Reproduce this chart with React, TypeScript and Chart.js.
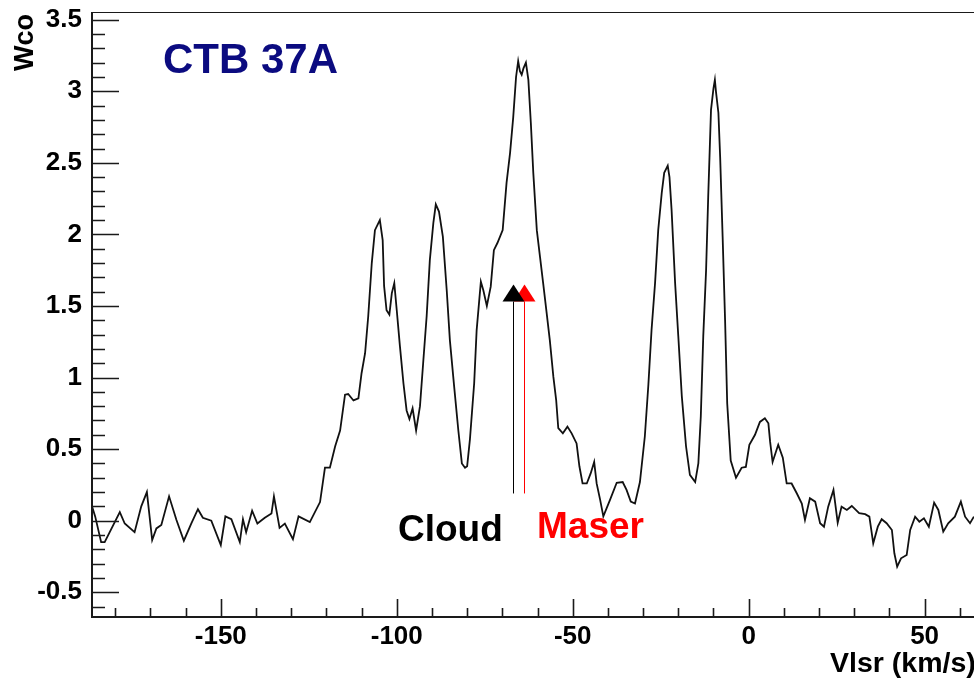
import React, { useEffect, useRef } from "react";
import { Chart, registerables } from "chart.js";

Chart.register(...registerables);

// CO line profile toward CTB 37A: LSR velocity (km/s) and integrated W_CO per channel
const velocity = [
  -186.6, -185.7, -184.0, -183.0, -178.7, -177.3, -174.5, -172.6, -171.0, -169.5,
  -168.3, -166.9, -164.7, -162.6, -160.5, -158.4, -156.5, -155.1, -152.7, -150.0,
  -148.7, -147.0, -144.6, -143.7, -142.8, -141.1, -139.6, -137.5, -135.6, -134.9,
  -133.3, -131.8, -129.5, -127.9, -124.7, -121.8, -120.4, -119.0, -117.5, -116.1,
  -114.7, -113.8, -112.3, -110.9, -110.0, -109.0, -108.1, -107.1, -106.2, -104.8,
  -104.0, -103.6, -102.9, -102.1, -101.4, -100.7, -100.0, -99.1, -98.1, -97.2,
  -96.4, -95.5, -94.5, -93.4, -92.5, -91.5, -90.6, -89.6, -88.9, -88.0,
  -86.9, -85.8, -84.9, -83.7, -82.5, -81.5, -80.6, -80.0, -79.2, -78.0,
  -77.3, -76.1, -75.4, -74.4, -73.3, -72.4, -71.4, -69.9, -68.8, -67.8,
  -66.9, -66.1, -65.5, -65.0, -64.5, -64.0, -63.3, -62.6, -61.9, -61.2,
  -60.2, -59.3, -58.4, -57.4, -56.5, -55.5, -54.7, -54.1, -52.8, -51.5,
  -50.3, -48.9, -48.1, -47.2, -46.0, -44.9, -43.9, -43.2, -42.2, -41.3,
  -39.4, -37.5, -35.8, -34.7, -33.5, -32.3, -30.9, -29.5, -28.5, -27.6,
  -26.6, -25.7, -24.7, -24.0, -23.0, -22.5, -21.9, -20.9, -20.0, -19.0,
  -17.8, -16.7, -15.2, -14.3, -13.6, -12.9, -12.1, -11.5, -10.7, -10.0,
  -9.6, -9.3, -8.6, -8.1, -7.4, -6.7, -6.1, -5.1, -3.6, -2.0,
  -0.8, 0.2, 1.8, 3.2, 4.6, 5.6, 6.1, 6.8, 8.4, 9.7,
  10.8, 12.2, 13.7, 15.1, 16.0, 17.4, 18.9, 20.3, 21.4, 22.6,
  24.1, 25.3, 26.4, 27.9, 29.3, 31.4, 33.1, 34.3, 35.4, 36.7,
  37.8, 39.2, 40.7, 41.4, 42.2, 43.3, 44.9, 45.9, 47.3, 48.5,
  49.8, 51.2, 52.7, 53.9, 55.3, 56.7, 58.6, 60.3, 61.5, 62.9,
  64.0,
];

const wco = [
  0.10, 0.03, -0.15, -0.15, 0.06, -0.02, -0.08, 0.10, 0.20, -0.135,
  -0.054, -0.03, 0.17, 0.005, -0.14, -0.02, 0.08, 0.02, 0.0, -0.17,
  0.03, 0.01, -0.15, 0.01, -0.08, 0.07, -0.02, 0.02, 0.05, 0.17,
  -0.05, -0.02, -0.13, 0.03, -0.01, 0.13, 0.37, 0.37, 0.52, 0.63,
  0.88, 0.885, 0.84, 0.855, 1.03, 1.17, 1.43, 1.80, 2.03, 2.10,
  1.96, 1.64, 1.47, 1.44, 1.59, 1.66, 1.47, 1.22, 0.96, 0.77,
  0.71, 0.785, 0.63, 0.80, 1.10, 1.43, 1.82, 2.08, 2.21, 2.16,
  1.985, 1.61, 1.26, 0.94, 0.63, 0.40, 0.37, 0.38, 0.57, 0.96,
  1.33, 1.67, 1.61, 1.50, 1.635, 1.89, 1.94, 2.03, 2.36, 2.57,
  2.82, 3.10, 3.21, 3.14, 3.115, 3.16, 3.20, 3.08, 2.78, 2.43,
  2.03, 1.845, 1.66, 1.45, 1.26, 1.006, 0.843, 0.646, 0.61, 0.657,
  0.61, 0.54, 0.38, 0.26, 0.26, 0.33, 0.41, 0.26, 0.145, 0.03,
  0.145, 0.265, 0.27, 0.215, 0.133, 0.12, 0.27, 0.59, 0.95, 1.33,
  1.66, 2.03, 2.29, 2.43, 2.48, 2.40, 2.17, 1.66, 1.29, 0.87,
  0.52, 0.32, 0.27, 0.40, 0.73, 1.29, 1.75, 2.26, 2.87, 3.02,
  3.08, 3.00, 2.85, 2.54, 1.985, 1.40, 0.82, 0.42, 0.30, 0.37,
  0.375, 0.53, 0.60, 0.69, 0.716, 0.68, 0.55, 0.41, 0.53, 0.44,
  0.26, 0.26, 0.19, 0.12, 0.005, 0.157, 0.133, -0.018, -0.042, 0.098,
  0.215, -0.014, 0.098, 0.075, 0.103, 0.052, 0.045, 0.028, -0.158, -0.042,
  0.01, -0.018, -0.065, -0.228, -0.321, -0.263, -0.24, -0.065, 0.028, -0.007,
  0.017, -0.042, 0.126, 0.075, -0.077, -0.018, 0.028, 0.133, 0.028, -0.018,
  0.028,
];

// Axis ranges and labelled ticks
const xRange = [-186.6, 64.6];
const yRange = [-0.673, 3.554];
const xTickValues = [-150, -100, -50, 0, 50];
const yTickValues = [-0.5, 0, 0.5, 1, 1.5, 2, 2.5, 3, 3.5];
const xMinorStep = 10;
const yMinorStep = 0.1;

// Velocities of the molecular cloud and the OH maser, marked with arrows
const cloudVelocity = -66.9;
const maserVelocity = -63.9;
const arrowFrom = 0.19;
const arrowTo = 1.65;

const FONT = '"Liberation Sans", Arial, Helvetica, sans-serif';

function minorValues(min: number, max: number, step: number): number[] {
  const out: number[] = [];
  const start = Math.ceil(min / step - 1e-9);
  const end = Math.floor(max / step + 1e-9);
  for (let i = start; i <= end; i++) out.push(Math.round(i * step * 1000) / 1000);
  return out;
}

const rootFrame = {
  id: "rootFrame",
  afterDatasetsDraw(chart: any) {
    const { ctx, scales } = chart;
    const x = scales.x;
    const y = scales.y;
    const drawArrow = (v: number, color: string) => {
      const px = Math.round(x.getPixelForValue(v)) + 0.5;
      const tail = y.getPixelForValue(arrowFrom);
      const tip = y.getPixelForValue(arrowTo);
      const base = tip + 17;
      ctx.save();
      ctx.strokeStyle = color;
      ctx.lineWidth = 1;
      ctx.beginPath();
      ctx.moveTo(px, tail);
      ctx.lineTo(px, base);
      ctx.stroke();
      ctx.fillStyle = color;
      ctx.beginPath();
      ctx.moveTo(px, tip);
      ctx.lineTo(px - 11, base);
      ctx.lineTo(px + 11, base);
      ctx.closePath();
      ctx.fill();
      ctx.restore();
    };
    drawArrow(maserVelocity, "#ff0000");
    drawArrow(cloudVelocity, "#000000");
  },
  afterDraw(chart: any) {
    const { ctx, chartArea: a, scales } = chart;
    const x = scales.x;
    const y = scales.y;
    ctx.save();
    ctx.strokeStyle = "#1a1a1a";

    // frame
    ctx.lineWidth = 1;
    ctx.beginPath();
    ctx.moveTo(a.left, a.top + 0.5);
    ctx.lineTo(a.right, a.top + 0.5);
    ctx.moveTo(a.right - 0.5, a.top);
    ctx.lineTo(a.right - 0.5, a.bottom);
    ctx.stroke();
    ctx.lineWidth = 2;
    ctx.beginPath();
    ctx.moveTo(a.left, a.top);
    ctx.lineTo(a.left, a.bottom);
    ctx.lineTo(a.right, a.bottom);
    ctx.stroke();

    // y ticks, drawn inward
    ctx.lineWidth = 1.6;
    ctx.beginPath();
    for (const v of minorValues(yRange[0], yRange[1], yMinorStep)) {
      const py = Math.round(y.getPixelForValue(v)) + 0.5;
      const major = yTickValues.some((t) => Math.abs(t - v) < 1e-6);
      ctx.moveTo(a.left, py);
      ctx.lineTo(a.left + (major ? 27 : 13), py);
    }
    // x ticks, drawn inward
    for (const v of minorValues(xRange[0], xRange[1], xMinorStep)) {
      const px = Math.round(x.getPixelForValue(v)) + 0.5;
      const major = xTickValues.some((t) => Math.abs(t - v) < 1e-6);
      ctx.moveTo(px, a.bottom);
      ctx.lineTo(px, a.bottom - (major ? 18 : 9));
    }
    ctx.stroke();

    // axis titles
    ctx.fillStyle = "#000000";
    ctx.font = `bold 28.5px ${FONT}`;
    ctx.textAlign = "left";
    ctx.textBaseline = "alphabetic";
    ctx.fillText("Vlsr (km/s)", 830, 672);

    ctx.save();
    ctx.font = `bold 27px ${FONT}`;
    ctx.translate(33, 14);
    ctx.rotate(-Math.PI / 2);
    ctx.textAlign = "right";
    ctx.fillText("Wco", 0, 0);
    ctx.restore();

    // source name
    ctx.fillStyle = "#0b0b80";
    ctx.font = `bold 42px ${FONT}`;
    ctx.fillText("CTB 37A", 163, 73);

    // arrow labels
    ctx.font = `bold 37px ${FONT}`;
    ctx.fillStyle = "#000000";
    ctx.fillText("Cloud", 398, 541);
    ctx.fillStyle = "#ff0000";
    ctx.fillText("Maser", 537, 538);

    ctx.restore();
  },
};

export default function App() {
  const canvasRef = useRef<HTMLCanvasElement | null>(null);

  useEffect(() => {
    document.body.style.margin = "0";
    const canvas = canvasRef.current;
    if (!canvas) return;
    const points = velocity.map((v, i) => ({ x: v, y: wco[i] }));
    const chart = new Chart(canvas, {
      type: "line",
      data: {
        datasets: [
          {
            data: points,
            borderColor: "#111111",
            borderWidth: 1.8,
            pointRadius: 0,
            tension: 0,
            fill: false,
          },
        ],
      },
      options: {
        responsive: false,
        animation: false,
        devicePixelRatio: 1,
        layout: { padding: { top: 12, right: 14, left: 0, bottom: 0 } },
        plugins: {
          legend: { display: false },
          tooltip: { enabled: false },
          title: { display: false },
        },
        scales: {
          x: {
            type: "linear",
            min: xRange[0],
            max: xRange[1],
            grid: { display: false, drawTicks: false },
            border: { display: false },
            afterBuildTicks: (scale: any) => {
              scale.ticks = xTickValues.map((v) => ({ value: v }));
            },
            afterFit: (scale: any) => {
              scale.height = 61;
              scale.paddingLeft = 0;
              scale.paddingRight = 0;
            },
            ticks: {
              padding: 4,
              color: "#000000",
              font: { family: FONT, size: 26, weight: "bold" },
              maxRotation: 0,
              autoSkip: false,
              callback: (v: any) => String(v),
            },
          },
          y: {
            type: "linear",
            min: yRange[0],
            max: yRange[1],
            grid: { display: false, drawTicks: false },
            border: { display: false },
            afterBuildTicks: (scale: any) => {
              scale.ticks = yTickValues.map((v) => ({ value: v }));
            },
            afterFit: (scale: any) => {
              scale.width = 92;
              scale.paddingTop = 0;
              scale.paddingBottom = 0;
            },
            ticks: {
              padding: 10,
              color: "#000000",
              font: { family: FONT, size: 26, weight: "bold" },
              autoSkip: false,
              callback: (v: any) => String(v),
            },
          },
        },
      },
      plugins: [rootFrame],
    });
    return () => chart.destroy();
  }, []);

  return (
    <div
      style={{
        position: "fixed",
        left: 0,
        top: 0,
        width: 974,
        height: 678,
        overflow: "hidden",
        background: "#ffffff",
      }}
    >
      <canvas ref={canvasRef} width={990} height={678} style={{ display: "block" }} />
    </div>
  );
}
